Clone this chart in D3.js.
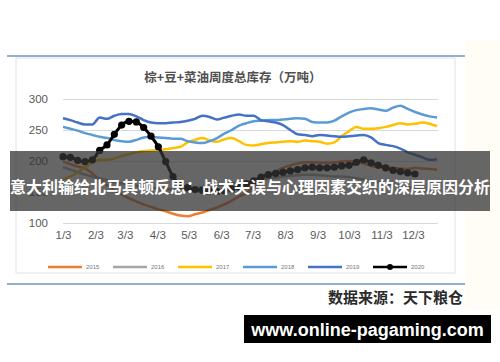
<!DOCTYPE html>
<html><head><meta charset="utf-8">
<script src="https://cdn.jsdelivr.net/npm/d3@7"></script>
<style>html,body{margin:0;padding:0;background:#fff;}svg{display:block;}</style>
</head><body>
<svg id="c" width="500" height="362"></svg>
<script>
const seriesNames = ["2015","2016","2017","2018","2019","2020"];
const colors = ["#ED7D31","#A5A5A5","#FFC000","#5B9BD5","#4472C4","#000000"];
const tickLabels = ["1/3","2/3","3/3","4/3","5/3","6/3","7/3","8/3","9/3","10/3","11/3","12/3"];
const yTicks = [100,150,200,250,300];

const v2015 = [199,195,191,188,180,170,161,153,146,140,135,130,126,122,119,115,112,111,114,117,121,125,130,136,143,148,158,166,175,183,189,193,196,198,198,197,197,198,199,200,199,196,192,190,190,189,188,187,189,188,187,186];
const v2016 = [190,186,182,178,175,172,169,166,164,162,160,158,157,156,155,154,154,155,156,158,159,161,162,164,165,167,168,170,172,173,175,176,177,178,178,177,176,175,175,174,172,170,168,166,164,162,160,158,156,154,152,150];
const v2017 = [170,175,182,190,197,202,202,204,208,211,214,216,217,218,219,221,223,230,234,237,233,231,235,237,232,226,225,227,229,230,231,232,231,233,232,231,228,230,240,248,255,252,252,253,255,258,261,259,260,262,260,256];
const v2018 = [255,252,249,245,242,239,237,234,232,231,234,238,239,238,237,236,236,232,230,229,232,237,244,250,257,261,264,265,266,266,267,268,269,268,263,262,262,265,272,278,282,284,285,283,281,286,289,284,279,275,272,270];
const v2019 = [269,266,262,259,259,270,268,273,276,276,272,266,262,261,261,262,263,265,268,273,271,267,270,273,275,273,273,266,264,262,258,250,243,242,240,242,241,240,239,240,241,242,238,229,226,224,220,214,210,206,202,203];
const v2020 = [207,206,201,199,202,217,226,243,258,264,263,254,240,223,199,175,161,157,154,153,151,151,152,155,158,163,168,174,178,180,182,184,186,189,190,189,189,190,192,193,198,202,197,193,189,185,183,181,179];
const allSeries = [v2015,v2016,v2017,v2018,v2019,v2020];

const svg = d3.select("#c");
const CJK = "'Noto Sans CJK SC','Noto Sans',sans-serif";

// faint cream tint at right edge
svg.append("rect").attr("x",465).attr("y",40).attr("width",35).attr("height",270).attr("fill","#fffdf6");

// frame lines
svg.append("line").attr("x1",7).attr("x2",465).attr("y1",56).attr("y2",56).attr("stroke","#6f93c4").attr("stroke-width",1.5);
svg.append("line").attr("x1",7).attr("x2",465).attr("y1",284).attr("y2",284).attr("stroke","#6f93c4").attr("stroke-width",1.5);
svg.append("rect").attr("x",16).attr("y",58).attr("width",439).attr("height",215).attr("fill","#fff").attr("stroke","#e2e2e2").attr("stroke-width",1);

// title
svg.append("text").attr("x",233).attr("y",76).attr("text-anchor","middle").attr("dominant-baseline","central")
  .attr("font-family",CJK).attr("font-weight","bold").attr("font-size",12.5).attr("fill","#505050")
  .text("棕+豆+菜油周度总库存（万吨）");

const t0 = new Date(2019,0,3);
const dateOf = i => d3.timeDay.offset(t0, i*7);
const x = d3.scaleTime().domain([t0, dateOf(51)]).range([63,437]);
const y = d3.scaleLinear().domain([100,300]).range([223,99]);

// grid + y labels
const yAxis = d3.axisLeft(y).tickValues(yTicks).tickSize(-(438-63)).tickPadding(15);
const gy = svg.append("g").attr("transform","translate(63,0)").call(yAxis);
gy.select(".domain").remove();
gy.selectAll(".tick line").attr("stroke","#d9d9d9").attr("stroke-width",1);
gy.selectAll(".tick text").attr("font-family","'Liberation Sans',Arial,sans-serif").attr("font-size",11.5).attr("fill","#595959");

// x labels
const tickDates = tickLabels.map(s => { const p = s.split("/"); return new Date(2019, +p[0]-1, +p[1]); });
const xAxis = d3.axisBottom(x).tickValues(tickDates).tickFormat((d,i)=>tickLabels[i]).tickSize(0).tickPadding(8);
const gx = svg.append("g").attr("transform","translate(0,223)").call(xAxis);
gx.select(".domain").remove();
gx.selectAll(".tick text").attr("font-family","'Liberation Sans',Arial,sans-serif").attr("font-size",11.5).attr("fill","#595959");

// lines
const line = d3.line().x((d,i)=>x(dateOf(i))).y(d=>y(d)).curve(d3.curveMonotoneX);
allSeries.forEach((s,k)=>{
  svg.append("path").datum(s).attr("d",line).attr("fill","none")
    .attr("stroke",colors[k]).attr("stroke-width", k===5?3:2.5).attr("stroke-linejoin","round");
});
svg.append("g").selectAll("circle").data(v2020).join("circle")
  .attr("cx",(d,i)=>x(dateOf(i))).attr("cy",d=>y(d)).attr("r",3.6).attr("fill","#000");

// legend
const lg = svg.append("g");
seriesNames.forEach((n,k)=>{
  const lx = 48 + k*65;
  lg.append("line").attr("x1",lx).attr("x2",lx+34).attr("y1",267).attr("y2",267).attr("stroke",colors[k]).attr("stroke-width",2.5);
  if(k===5) lg.append("circle").attr("cx",lx+17).attr("cy",267).attr("r",3).attr("fill","#000");
  lg.append("text").attr("x",lx+38).attr("y",267).attr("dominant-baseline","central")
    .attr("font-family","'Liberation Sans',Arial,sans-serif").attr("font-size",6).attr("fill","#777").text(n);
});

// source
svg.append("text").attr("x",463).attr("y",296).attr("text-anchor","end").attr("dominant-baseline","central")
  .attr("font-family",CJK).attr("font-weight","bold").attr("font-size",15).attr("fill","#2a2a2a").text("数据来源：天下粮仓");

// overlay band
svg.append("rect").attr("x",10).attr("y",151).attr("width",480).attr("height",60).attr("fill","#333").attr("fill-opacity",0.75);
svg.append("text").attr("x",250).attr("y",186).attr("text-anchor","middle").attr("dominant-baseline","central")
  .attr("font-family",CJK).attr("font-weight","bold").attr("font-size",16).attr("fill","#fff")
  .text("意大利输给北马其顿反思：战术失误与心理因素交织的深层原因分析");

// watermark
svg.append("rect").attr("x",244).attr("y",315).attr("width",247).attr("height",28).attr("fill","#000");
svg.append("text").attr("x",367.5).attr("y",329.5).attr("text-anchor","middle").attr("dominant-baseline","central")
  .attr("font-family","'Liberation Sans',Arial,sans-serif").attr("font-weight","bold").attr("font-size",18).attr("fill","#fff")
  .text("www.online-pagaming.com");
</script>
</body></html>
